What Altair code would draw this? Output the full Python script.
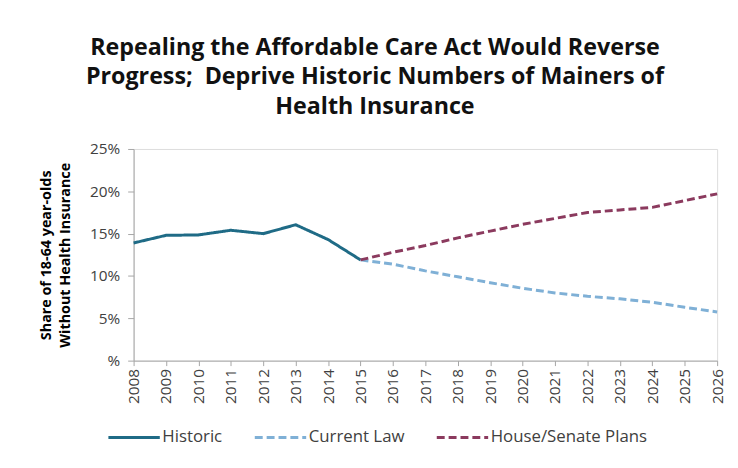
import altair as alt
import pandas as pd

years_hist = [2008, 2009, 2010, 2011, 2012, 2013, 2014, 2015]
historic = [13.9, 14.8, 14.85, 15.4, 15.0, 16.05, 14.3, 11.9]

years_proj = [2015, 2016, 2017, 2018, 2019, 2020, 2021, 2022, 2023, 2024, 2025, 2026]
current_law = [11.9, 11.4, 10.6, 9.9, 9.2, 8.55, 8.0, 7.6, 7.3, 6.9, 6.3, 5.75]
house_senate = [11.9, 12.8, 13.6, 14.5, 15.3, 16.1, 16.8, 17.5, 17.8, 18.1, 18.9, 19.7]

series_names = ["Historic", "Current Law", "House/Senate Plans"]
series_colors = ["#1F6B86", "#7FB0D6", "#8B3A5E"]

rows = []
for y, v in zip(years_hist, historic):
    rows.append({"year": y, "value": v, "series": "Historic"})
for y, v in zip(years_proj, current_law):
    rows.append({"year": y, "value": v, "series": "Current Law"})
for y, v in zip(years_proj, house_senate):
    rows.append({"year": y, "value": v, "series": "House/Senate Plans"})
df = pd.DataFrame(rows)

FONT = "Open Sans"

chart = alt.Chart(df).mark_line(strokeWidth=3).encode(
    x=alt.X("year:Q",
            scale=alt.Scale(domain=[2008, 2026], nice=False, zero=False),
            axis=alt.Axis(values=list(range(2008, 2027)), format="d", title=None,
                          labelAngle=270, labelAlign="right", labelBaseline="middle",
                          labelFontSize=15.5, labelColor="#404040", labelFont=FONT,
                          domainColor="#a6a6a6", tickColor="#a6a6a6", tickSize=5,
                          labelPadding=3, grid=False, labelOverlap=False)),
    y=alt.Y("value:Q",
            scale=alt.Scale(domain=[0, 25], nice=False),
            axis=alt.Axis(values=[0, 5, 10, 15, 20, 25],
                          labelExpr="datum.value == 0 ? '%' : datum.value + '%'",
                          title=["Share of 18-64 year-olds", "Without Health Insurance"],
                          titleFontSize=14.5, titleFont=FONT, titleFontWeight="bold",
                          titleColor="#000000", titlePadding=17, titleLineHeight=19,
                          labelFontSize=15.5, labelColor="#404040", labelFont=FONT,
                          domainColor="#a6a6a6", tickColor="#a6a6a6", tickSize=6,
                          labelPadding=8, grid=False)),
    color=alt.Color("series:N",
                    scale=alt.Scale(domain=series_names, range=series_colors),
                    legend=alt.Legend(title=None, orient="none", direction="horizontal",
                                      legendX=-27, legendY=264,
                                      symbolType="stroke", symbolSize=2700,
                                      symbolStrokeWidth=3,
                                      labelFontSize=17, labelFont=FONT, labelColor="#404040",
                                      columnPadding=26, labelOffset=1)),
    strokeDash=alt.StrokeDash("series:N",
                              scale=alt.Scale(domain=series_names,
                                              range=[[1, 0], [8, 4], [8, 4]]),
                              legend=None),
    detail="series:N",
).properties(
    width=590,
    height=214,
    padding={"left": 127, "top": 140, "right": 13, "bottom": 106},
    autosize=alt.AutoSizeParams(type="none"),
    title=alt.TitleParams(
        text=["Repealing the Affordable Care Act Would Reverse",
              "Progress;\u00a0 Deprive Historic Numbers of Mainers of",
              "Health Insurance"],
        fontSize=23.5, font=FONT, fontWeight="bold", color="#111111",
        anchor="middle", dx=-51, lineHeight=30, offset=24),
).configure_view(stroke=None).configure(background="white")

chart.save("out.html", embed_options={"renderer": "svg", "actions": False})
